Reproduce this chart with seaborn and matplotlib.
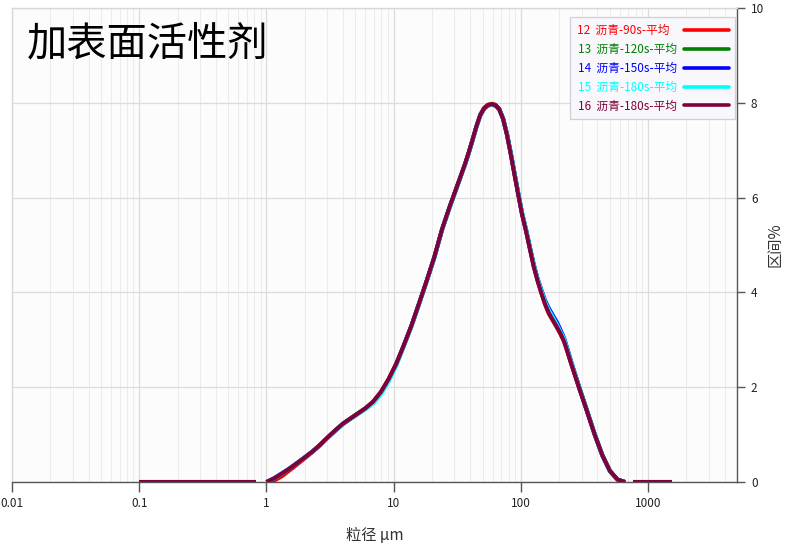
import numpy as np
import pandas as pd
import matplotlib
matplotlib.use("Agg")
import matplotlib.pyplot as plt
import seaborn as sns
from matplotlib.lines import Line2D
from matplotlib.ticker import FixedLocator, FixedFormatter, LogLocator, NullFormatter

# ---- data (particle size in µm, interval volume %) ----
sizes = [1.0, 1.15, 1.32, 1.51, 1.74, 2.0, 2.29, 2.63, 3.02, 3.47,
         3.98, 4.57, 5.25, 6.03, 6.92, 7.94, 9.12, 10.5, 12.0, 13.8,
         15.8, 18.2, 20.9, 24.0, 27.5, 31.6, 36.3, 38.9, 41.7, 44.7,
         47.9, 51.3, 55.0, 58.9, 63.1, 67.6, 72.4, 77.6, 83.2, 89.1,
         95.5, 102, 110, 118, 126, 135, 145, 155, 166, 178,
         191, 204, 219, 234, 251, 288, 331, 380, 437, 501,
         575, 660]

s12 = [0.00, 0.03, 0.12, 0.24, 0.37, 0.50, 0.63, 0.77, 0.93, 1.08,
       1.22, 1.34, 1.45, 1.56, 1.70, 1.90, 2.17, 2.50, 2.88, 3.30,
       3.76, 4.25, 4.75, 5.33, 5.80, 6.25, 6.70, 6.95, 7.22, 7.50,
       7.75, 7.89, 7.96, 7.98, 7.96, 7.87, 7.67, 7.34, 6.93, 6.49,
       6.06, 5.66, 5.29, 4.91, 4.56, 4.26, 3.99, 3.75, 3.55, 3.41,
       3.27, 3.13, 2.96, 2.72, 2.46, 1.97, 1.49, 1.00, 0.56, 0.23,
       0.05, 0.00]
s13 = [0.00, 0.07, 0.17, 0.28, 0.40, 0.52, 0.64, 0.78, 0.94, 1.09,
       1.23, 1.34, 1.45, 1.56, 1.69, 1.89, 2.16, 2.49, 2.88, 3.30,
       3.76, 4.25, 4.75, 5.33, 5.80, 6.25, 6.70, 6.95, 7.22, 7.50,
       7.74, 7.88, 7.95, 7.97, 7.95, 7.87, 7.67, 7.35, 6.94, 6.51,
       6.08, 5.68, 5.31, 4.93, 4.58, 4.28, 4.01, 3.79, 3.60, 3.46,
       3.31, 3.17, 2.99, 2.75, 2.49, 2.00, 1.51, 1.02, 0.57, 0.24,
       0.05, 0.00]
s14 = [0.00, 0.08, 0.18, 0.28, 0.40, 0.52, 0.64, 0.78, 0.93, 1.08,
       1.22, 1.33, 1.44, 1.55, 1.68, 1.88, 2.15, 2.48, 2.87, 3.29,
       3.75, 4.24, 4.74, 5.32, 5.79, 6.24, 6.69, 6.94, 7.21, 7.49,
       7.73, 7.87, 7.94, 7.96, 7.94, 7.86, 7.67, 7.35, 6.95, 6.51,
       6.08, 5.68, 5.31, 4.94, 4.60, 4.30, 4.05, 3.83, 3.66, 3.52,
       3.38, 3.22, 3.03, 2.78, 2.50, 1.99, 1.50, 1.01, 0.56, 0.23,
       0.05, 0.00]
s15 = [0.00, 0.08, 0.18, 0.28, 0.40, 0.52, 0.64, 0.77, 0.93, 1.08,
       1.22, 1.33, 1.44, 1.54, 1.66, 1.85, 2.12, 2.46, 2.86, 3.28,
       3.74, 4.23, 4.73, 5.31, 5.78, 6.23, 6.68, 6.93, 7.20, 7.48,
       7.73, 7.87, 7.94, 7.96, 7.94, 7.86, 7.67, 7.35, 6.95, 6.52,
       6.09, 5.69, 5.32, 4.93, 4.59, 4.29, 4.03, 3.80, 3.62, 3.48,
       3.33, 3.18, 3.01, 2.76, 2.49, 1.99, 1.50, 1.01, 0.56, 0.22,
       0.04, 0.00]
s16 = [0.00, 0.08, 0.18, 0.28, 0.40, 0.52, 0.64, 0.78, 0.94, 1.09,
       1.23, 1.34, 1.45, 1.56, 1.70, 1.90, 2.17, 2.50, 2.88, 3.30,
       3.76, 4.25, 4.75, 5.33, 5.80, 6.25, 6.70, 6.95, 7.22, 7.50,
       7.74, 7.88, 7.95, 7.97, 7.95, 7.86, 7.66, 7.33, 6.92, 6.48,
       6.05, 5.65, 5.28, 4.90, 4.55, 4.25, 3.98, 3.75, 3.56, 3.42,
       3.28, 3.14, 2.96, 2.72, 2.46, 1.97, 1.49, 1.00, 0.56, 0.23,
       0.05, 0.00]

series_names = ["12  沥青-90s-平均\u2007", "13  沥青-120s-平均", "14  沥青-150s-平均",
                "15  沥青-180s-平均", "16  沥青-180s-平均"]
series_values = [s12, s13, s14, s15, s16]
series_colors = ["#ff0000", "#008000", "#0000ff", "#00ffff", "#80003c"]

left_zero_sizes = [0.1, 0.83]
right_zero_sizes = [760, 1540]

x_ticks = [0.01, 0.1, 1, 10, 100, 1000]
x_tick_labels = ["0.01", "0.1", "1", "10", "100", "1000"]
y_ticks = [0, 2, 4, 6, 8, 10]
y_tick_labels = ["0", "2", "4", "6", "8", "10"]

title_text = "加表面活性剂"
x_label = "粒径 µm"
y_label = "区间%"

# ---- build long table ----
rows = []
for name, vals in zip(series_names, series_values):
    for x, v in zip(sizes, vals):
        rows.append((name, "main", x, v))
    for x in left_zero_sizes:
        rows.append((name, "left", x, 0.0))
    for x in right_zero_sizes:
        rows.append((name, "right", x, 0.0))
df = pd.DataFrame(rows, columns=["series", "segment", "size", "value"])

sns.set_theme(style="whitegrid")
plt.rcParams['font.family'] = ['Noto Sans CJK SC', 'DejaVu Sans']

fig = plt.figure(figsize=(7.86, 5.49), dpi=100)
fig.patch.set_facecolor("white")
ax = fig.add_axes([0.0153, 0.122, 0.9224, 0.8634])
ax.set_facecolor("#fcfcfc")

sns.lineplot(data=df, x="size", y="value", hue="series", units="segment",
             estimator=None, sort=False, hue_order=series_names,
             palette=dict(zip(series_names, series_colors)),
             linewidth=2.9, legend=False, ax=ax,
             solid_joinstyle="round", solid_capstyle="butt")

ax.set_xscale("log")
ax.set_xlim(0.01, 5000)
ax.set_ylim(0, 10)

ax.xaxis.set_major_locator(FixedLocator(x_ticks))
ax.xaxis.set_major_formatter(FixedFormatter(x_tick_labels))
ax.xaxis.set_minor_locator(LogLocator(base=10, subs=np.arange(2, 10)))
ax.xaxis.set_minor_formatter(NullFormatter())
ax.yaxis.set_major_locator(FixedLocator(y_ticks))
ax.yaxis.set_major_formatter(FixedFormatter(y_tick_labels))

ax.grid(False)
ax.grid(which="major", axis="both", color="#dcdcdc", lw=0.9)
ax.grid(which="minor", axis="x", color="#ececec", lw=0.8)
ax.set_axisbelow(True)

ax.yaxis.tick_right()
ax.yaxis.set_label_position("right")
ax.tick_params(axis="x", which="major", direction="out", length=7, width=1,
               color="#555555", labelsize=8.5, labelcolor="#222222", pad=4,
               bottom=True)
ax.tick_params(axis="x", which="minor", length=0)
ax.tick_params(axis="y", which="major", direction="out", length=6, width=1,
               color="#555555", labelsize=8.5, labelcolor="#222222", pad=4,
               right=True, left=False)

for side in ["left", "top"]:
    ax.spines[side].set_color("#d8d8d8")
    ax.spines[side].set_linewidth(1)
for side in ["bottom", "right"]:
    ax.spines[side].set_color("#555555")
    ax.spines[side].set_linewidth(1)
    ax.spines[side].set_visible(True)

ax.set_xlabel(x_label, fontsize=11, color="#333333", labelpad=12)
ax.set_ylabel(y_label, fontsize=11, color="#333333", labelpad=2, rotation=90)

ax.text(0.021, 0.968, title_text, transform=ax.transAxes, fontsize=29,
        va="top", ha="left", color="black")

handles = [Line2D([0], [0], color=c, lw=2.6) for c in series_colors]
leg = ax.legend(handles, series_names, loc="upper right",
                bbox_to_anchor=(0.9975, 0.98), borderaxespad=0,
                markerfirst=False, fontsize=8.5, frameon=True, fancybox=False,
                edgecolor="#cfcfdc", facecolor="#f8f7fc", framealpha=1,
                handlelength=3.8, borderpad=0.55, labelspacing=0.5,
                handletextpad=0.6)
leg.get_frame().set_linewidth(0.9)
for t, c in zip(leg.get_texts(), series_colors):
    t.set_color(c)

fig.savefig("out.png", dpi=100)
